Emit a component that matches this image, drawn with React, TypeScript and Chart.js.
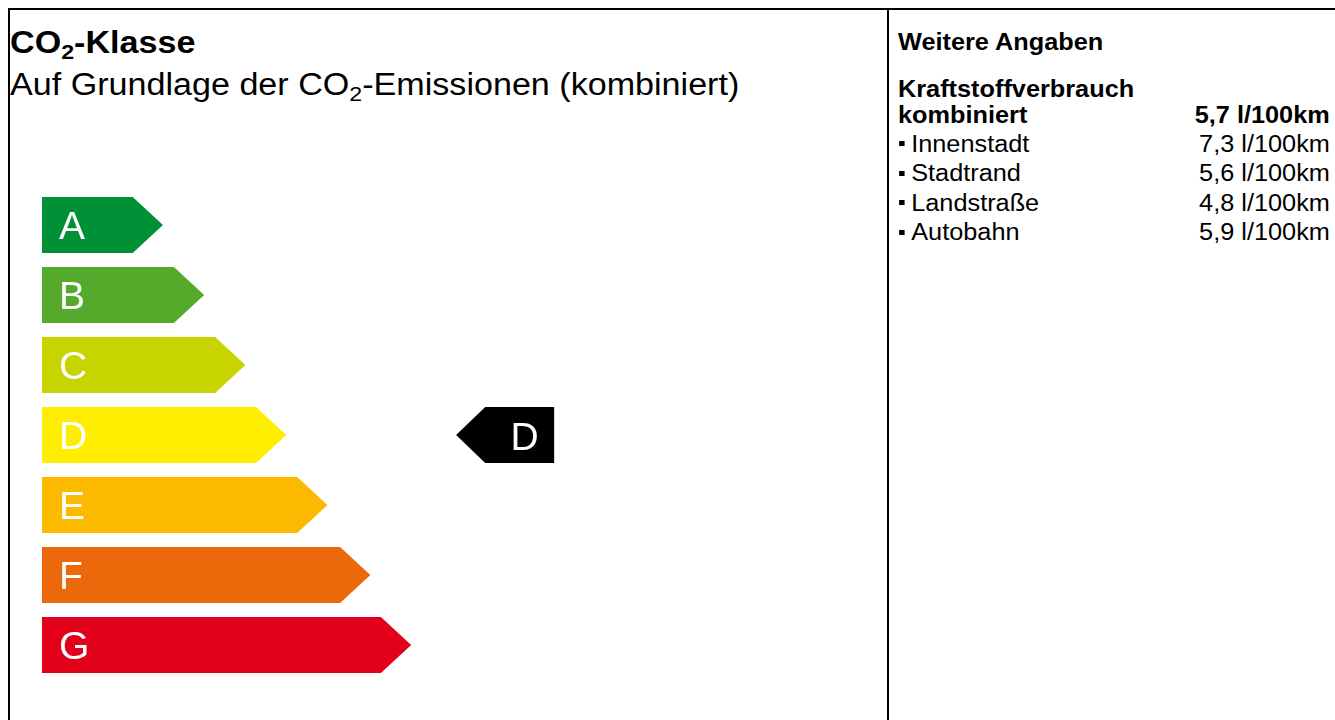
import React, { useEffect, useRef } from "react";
import { Chart, registerables } from "chart.js";

Chart.register(...registerables);

// ---- data ----
const classes = ["A", "B", "C", "D", "E", "F", "G"];
const classColors = ["#009036", "#55AA2C", "#C8D400", "#FFED00", "#FBBA00", "#EB690B", "#E2001A"];
const barLengths = [2.2, 3.2, 4.2, 5.19, 6.19, 7.23, 8.22];
const vehicleClass = "D";
const markerRange: [number, number] = [10.75, 12.42];

const panelTitle = "Weitere Angaben";
const combinedLabel = ["Kraftstoffverbrauch", "kombiniert"];
const combinedValue = "5,7 l/100km";
const consumptionLabels = ["Innenstadt", "Stadtrand", "Landstraße", "Autobahn"];
const consumptionValues = ["7,3 l/100km", "5,6 l/100km", "4,8 l/100km", "5,9 l/100km"];

const FONT = '"Liberation Sans", Arial, Helvetica, sans-serif';

const arrowPlugin = {
  id: "arrowTips",
  afterDatasetsDraw(chart: any) {
    const ctx = chart.ctx as CanvasRenderingContext2D;
    // class bars: whole arrow redrawn (body + tip pointing right)
    const meta0 = chart.getDatasetMeta(0);
    meta0.data.forEach((el: any, i: number) => {
      const p = el.getProps(["x", "y", "base", "height"], true);
      const top = p.y - p.height / 2;
      const bot = p.y + p.height / 2;
      const tip = p.height * 0.54;
      ctx.save();
      ctx.fillStyle = classColors[i];
      ctx.beginPath();
      ctx.moveTo(p.base, top);
      ctx.lineTo(p.x, top);
      ctx.lineTo(p.x + tip, p.y);
      ctx.lineTo(p.x, bot);
      ctx.lineTo(p.base, bot);
      ctx.closePath();
      ctx.fill();
      ctx.fillStyle = "#ffffff";
      ctx.font = `39px ${FONT}`;
      ctx.textAlign = "left";
      ctx.textBaseline = "alphabetic";
      ctx.fillText(classes[i], p.base + 17, p.y + 14);
      ctx.restore();
    });
    // vehicle marker: tip pointing left
    const meta1 = chart.getDatasetMeta(1);
    meta1.data.forEach((el: any, i: number) => {
      const raw = chart.data.datasets[1].data[i];
      if (raw == null) return;
      const p = el.getProps(["x", "y", "base", "height"], true);
      const left = Math.min(p.x, p.base);
      const right = Math.max(p.x, p.base);
      const top = p.y - p.height / 2;
      const bot = p.y + p.height / 2;
      const tip = p.height * 0.52;
      ctx.save();
      ctx.fillStyle = "#000000";
      ctx.beginPath();
      ctx.moveTo(right, top);
      ctx.lineTo(left, top);
      ctx.lineTo(left - tip, p.y);
      ctx.lineTo(left, bot);
      ctx.lineTo(right, bot);
      ctx.closePath();
      ctx.fill();
      ctx.fillStyle = "#ffffff";
      ctx.font = `39px ${FONT}`;
      ctx.textAlign = "center";
      ctx.textBaseline = "alphabetic";
      ctx.fillText(classes[i], (left + right) / 2 + 5, p.y + 15);
      ctx.restore();
    });
  },
};

function EnergyChart() {
  const ref = useRef<HTMLCanvasElement | null>(null);
  useEffect(() => {
    if (!ref.current) return;
    const chart = new Chart(ref.current, {
      type: "bar",
      data: {
        labels: classes,
        datasets: [
          {
            label: "CO2-Klasse",
            data: barLengths,
            backgroundColor: classColors,
            borderWidth: 0,
            barPercentage: 0.8,
            categoryPercentage: 1,
            grouped: false,
          } as any,
          {
            label: "Fahrzeug",
            data: classes.map((c) => (c === vehicleClass ? markerRange : null)),
            backgroundColor: "#000000",
            borderWidth: 0,
            barPercentage: 0.8,
            categoryPercentage: 1,
            grouped: false,
          } as any,
        ],
      },
      options: {
        indexAxis: "y",
        responsive: false,
        maintainAspectRatio: false,
        animation: false,
        layout: { padding: 0 },
        plugins: { legend: { display: false }, tooltip: { enabled: false }, title: { display: false } },
        scales: {
          x: { type: "linear", min: 0, max: 13, display: false, grid: { display: false } },
          y: { type: "category", display: false, grid: { display: false } },
        },
      } as any,
      plugins: [arrowPlugin],
    });
    return () => chart.destroy();
  }, []);
  return (
    <canvas
      ref={ref}
      width={536}
      height={490}
      style={{ position: "absolute", left: 42, top: 190, width: 536, height: 490 }}
    />
  );
}

const sub: React.CSSProperties = { fontSize: "0.68em", verticalAlign: "-0.3em", lineHeight: 0 };

function Line(props: {
  children: React.ReactNode;
  left?: number;
  right?: number;
  baseline: number;
  size: number;
  bold?: boolean;
  sx: number;
}) {
  const { left, right, baseline, size, bold, sx } = props;
  const top = baseline - 0.8465 * size;
  const style: React.CSSProperties = {
    position: "absolute",
    top,
    fontFamily: FONT,
    fontSize: size,
    lineHeight: 1,
    fontWeight: bold ? 700 : 400,
    color: "#000",
    whiteSpace: "nowrap",
    transform: `scaleX(${sx})`,
    transformOrigin: right !== undefined ? "right top" : "left top",
  };
  if (right !== undefined) style.right = 1335 - right;
  else style.left = left;
  return <div style={style}>{props.children}</div>;
}

export default function App() {
  const PS = 23;
  const PX = 1.1;
  const rowBaselines = [152, 181.5, 211, 240.5];
  return (
    <div
      style={{
        position: "absolute",
        left: 0,
        top: 0,
        width: 1335,
        height: 720,
        overflow: "hidden",
        background: "#fff",
      }}
    >
      {/* frame */}
      <div style={{ position: "absolute", left: 8, top: 8, width: 1400, height: 800, borderTop: "2px solid #000", borderLeft: "2px solid #000" }} />
      <div style={{ position: "absolute", left: 887, top: 8, width: 2, height: 720, background: "#000" }} />

      {/* left titles */}
      <Line left={10} baseline={53} size={31} bold sx={1.1}>
        CO<sub style={sub}>2</sub>-Klasse
      </Line>
      <Line left={10} baseline={95} size={31} sx={1.1}>
        Auf Grundlage der CO<sub style={sub}>2</sub>-Emissionen (kombiniert)
      </Line>

      <EnergyChart />

      {/* right panel */}
      <Line left={898} baseline={50.5} size={PS} bold sx={PX}>
        {panelTitle}
      </Line>
      <Line left={898} baseline={97.5} size={PS} bold sx={PX}>
        {combinedLabel[0]}
      </Line>
      <Line left={898} baseline={123} size={PS} bold sx={PX}>
        {combinedLabel[1]}
      </Line>
      <Line right={1330} baseline={123} size={PS} bold sx={PX}>
        {combinedValue}
      </Line>
      {consumptionLabels.map((lab, i) => (
        <React.Fragment key={lab}>
          <Line left={898} baseline={rowBaselines[i]} size={PS} sx={PX}>
            <span style={{ display: "inline-block", width: 5, height: 5, background: "#000", verticalAlign: "0.22em", marginRight: 6, marginLeft: 1 }} />
            {lab}
          </Line>
          <Line right={1330} baseline={rowBaselines[i]} size={PS} sx={PX}>
            {consumptionValues[i]}
          </Line>
        </React.Fragment>
      ))}
    </div>
  );
}
